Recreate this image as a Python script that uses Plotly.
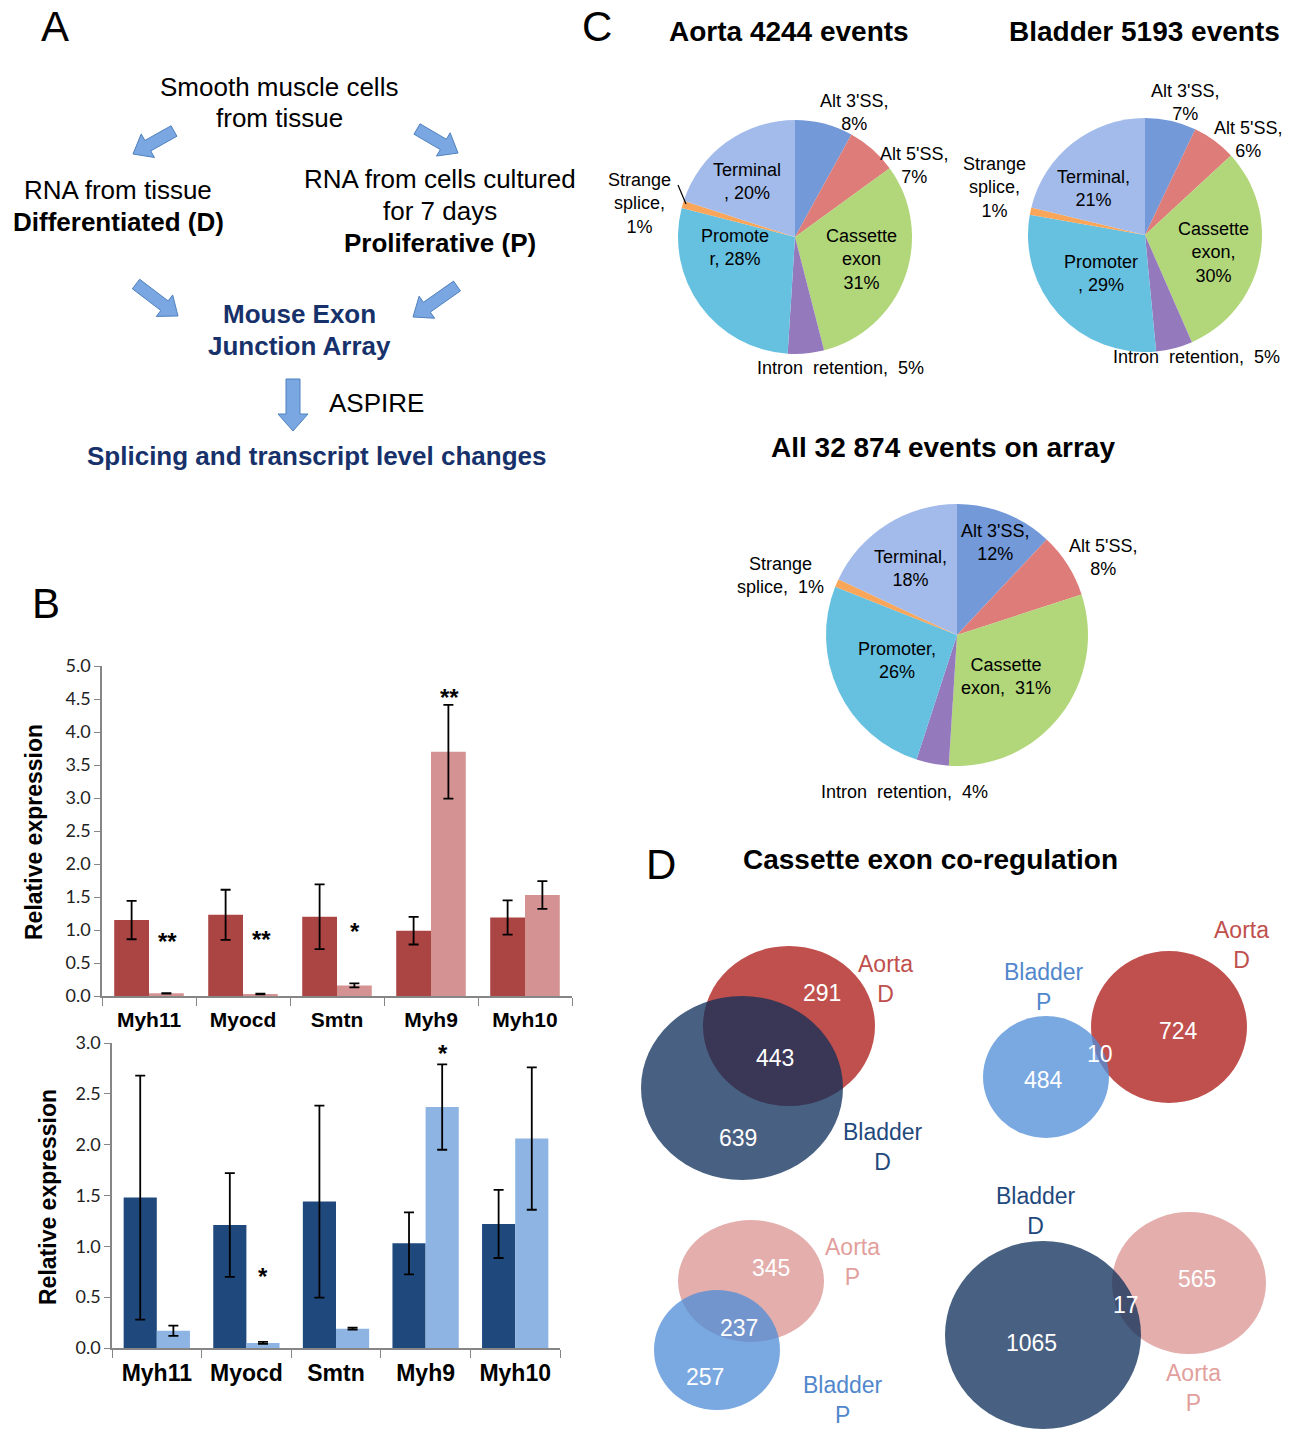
import math
import plotly.graph_objects as go

W, H = 1295, 1429
ARIAL = "Liberation Sans, Arial, sans-serif"
CALIB = "Lato, Liberation Sans, sans-serif"


def X(px):
    return px / W


def Y(py):
    return 1 - py / H


# ---------------- data ----------------
genes = ["Myh11", "Myocd", "Smtn", "Myh9", "Myh10"]

aorta_D = [1.15, 1.23, 1.20, 0.99, 1.19]
aorta_D_err = [0.29, 0.38, 0.49, 0.21, 0.26]
aorta_P = [0.04, 0.03, 0.16, 3.70, 1.53]
aorta_P_err = [0.005, 0.005, 0.03, 0.71, 0.21]
aorta_sig = ["**", "**", "*", "**", ""]
aorta_sig_y = [0.82, 0.86, 0.97, 4.52, 0]

bladder_D = [1.48, 1.21, 1.44, 1.03, 1.22]
bladder_D_err = [1.20, 0.51, 0.945, 0.305, 0.335]
bladder_P = [0.17, 0.05, 0.19, 2.37, 2.06]
bladder_P_err = [0.05, 0.01, 0.01, 0.42, 0.70]
bladder_sig = ["", "*", "", "*", ""]
bladder_sig_y = [0, 0.70, 0, 2.90, 0]

event_types = ["Alt 3'SS", "Alt 5'SS", "Cassette exon", "Intron retention",
               "Promoter", "Strange splice", "Terminal"]
aorta_pct = [8, 7, 31, 5, 28, 1, 20]
bladder_pct = [7, 6, 30, 5, 29, 1, 21]
all_pct = [12, 8, 31, 4, 26, 1, 18]
pie_titles = ["Aorta 4244 events", "Bladder 5193 events", "All 32 874 events on array"]

venn_sets = [("Aorta", "D", "Bladder", "D"),
             ("Bladder", "P", "Aorta", "D"),
             ("Aorta", "P", "Bladder", "P"),
             ("Bladder", "D", "Aorta", "P")]
venn_only_a = [291, 484, 345, 1065]
venn_both = [443, 10, 237, 17]
venn_only_b = [639, 724, 257, 565]

# ---------------- styles ----------------
pie_colors = ["#7399d8", "#de7c79", "#b2d67a", "#9479bd", "#66c0e0", "#f9a65a", "#a3bbea"]
RED_D, RED_P = "#ab4543", "#d49392"
BLUE_D, BLUE_P = "#1f497d", "#8db4e2"
NAVY = "#17316b"

set_fill = {("Aorta", "D"): "#c0504d", ("Bladder", "D"): "rgba(14,46,90,0.76)",
            ("Bladder", "P"): "rgba(80,140,215,0.76)", ("Aorta", "P"): "#e3aeac"}
set_text = {("Aorta", "D"): "#c0504d", ("Bladder", "D"): "#1f497d",
            ("Bladder", "P"): "#5187cc", ("Aorta", "P"): "#e29f9d"}

fig = go.Figure()

# ---------------- panel B bars ----------------
def err(a):
    return dict(type="data", array=a, color="black", thickness=1.8, width=5)

fig.add_trace(go.Bar(x=genes, y=aorta_D, error_y=err(aorta_D_err), marker=dict(color=RED_D, line_width=0),
                     xaxis="x", yaxis="y", showlegend=False))
fig.add_trace(go.Bar(x=genes, y=aorta_P, error_y=err(aorta_P_err), marker=dict(color=RED_P, line_width=0),
                     xaxis="x", yaxis="y", showlegend=False))
fig.add_trace(go.Bar(x=genes, y=bladder_D, error_y=err(bladder_D_err), marker=dict(color=BLUE_D, line_width=0),
                     xaxis="x2", yaxis="y2", showlegend=False))
fig.add_trace(go.Bar(x=genes, y=bladder_P, error_y=err(bladder_P_err), marker=dict(color=BLUE_P, line_width=0),
                     xaxis="x2", yaxis="y2", showlegend=False))

# ---------------- panel C pies ----------------
pie_geom = [(795, 237, 117), (1145, 235, 117), (957, 635, 131)]
for vals, (cx, cy, r) in zip([aorta_pct, bladder_pct, all_pct], pie_geom):
    fig.add_trace(go.Pie(labels=event_types, values=vals, sort=False, direction="clockwise",
                         rotation=0, textinfo="none", hoverinfo="label+percent",
                         marker=dict(colors=pie_colors, line=dict(width=0)),
                         domain=dict(x=[X(cx - r), X(cx + r)], y=[Y(cy + r), Y(cy - r)]),
                         showlegend=False))

annotations = []
shapes = []


def txt(px, py, s, size, color="black", bold=False, family=ARIAL, angle=0, xanchor="center"):
    annotations.append(dict(x=X(px), y=Y(py), xref="paper", yref="paper", text=s, showarrow=False,
                            font=dict(family=family, size=size, color=color,
                                      weight="bold" if bold else "normal"),
                            xanchor=xanchor, yanchor="middle", textangle=angle))


NB = "\u00a0"
pie_label_layout = [
    [("{n},<br>{v}%", 854, 112), ("{n},<br>{v}%", 914, 165), ("Cassette<br>exon<br>{v}%", 861, 259),
     ("Intron" + NB + " retention," + NB + " {v}%", 840, 368), ("Promote<br>r, {v}%", 735, 247),
     ("Strange<br>splice,<br>{v}%", 639, 203), ("Terminal<br>, {v}%", 747, 182)],
    [("{n},<br>{v}%", 1185, 103), ("{n},<br>{v}%", 1248, 139), ("Cassette<br>exon,<br>{v}%", 1213, 252),
     ("Intron" + NB + " retention," + NB + " {v}%", 1196, 357), ("Promoter<br>, {v}%", 1101, 273),
     ("Strange<br>splice,<br>{v}%", 994, 187), ("{n},<br>{v}%", 1093, 189)],
    [("{n},<br>{v}%", 995, 542), ("{n},<br>{v}%", 1103, 557), ("Cassette<br>exon," + NB + " {v}%", 1006, 676),
     ("Intron" + NB + " retention," + NB + " {v}%", 904, 792), ("{n},<br>{v}%", 897, 660),
     ("Strange<br>splice," + NB + " {v}%", 780, 575), ("{n},<br>{v}%", 910, 569)],
]
for vals, lay in zip([aorta_pct, bladder_pct, all_pct], pie_label_layout):
    for name, v, (tpl, px, py) in zip(event_types, vals, lay):
        txt(px, py, tpl.format(n=name, v=v), 18)

shapes.append(dict(type="line", xref="paper", yref="paper", x0=X(678), y0=Y(185), x1=X(686), y1=Y(204),
                   line=dict(color="black", width=1.2)))

title_pos = [(789, 32, 28), (1144, 32, 28), (943, 447, 28)]
for t, (px, py, sz) in zip(pie_titles, title_pos):
    txt(px, py, t, sz, bold=True)

# ---------------- panel letters & titles ----------------
txt(55, 26, "A", 42)
txt(597, 26, "C", 42)
txt(46, 604, "B", 42)
txt(661, 864, "D", 42)
txt(930, 860, "Cassette exon co-regulation", 28, bold=True)

# ---------------- panel A ----------------
txt(279, 87, "Smooth muscle cells", 26)
txt(279, 118, "from tissue", 26)
txt(118, 190, "RNA from tissue", 26)
txt(118, 222, "Differentiated (D)", 26, bold=True)
txt(440, 179, "RNA from cells cultured", 26)
txt(440, 211, "for 7 days", 26)
txt(440, 243, "Proliferative (P)", 26, bold=True)
txt(299, 314, "Mouse Exon", 26, color=NAVY, bold=True)
txt(299, 346, "Junction Array", 26, color=NAVY, bold=True)
txt(376, 403, "ASPIRE", 26)
txt(316, 456, "Splicing and transcript level changes", 26, color=NAVY, bold=True)


def block_arrow(x0, y0, x1, y1, sw=12, hw=27, hl=17):
    dx, dy = x1 - x0, y1 - y0
    L = math.hypot(dx, dy)
    ux, uy = dx / L, dy / L
    nx, ny = -uy, ux
    bx, by = x1 - ux * hl, y1 - uy * hl
    pts = [(x0 + nx * sw / 2, y0 + ny * sw / 2), (bx + nx * sw / 2, by + ny * sw / 2),
           (bx + nx * hw / 2, by + ny * hw / 2), (x1, y1),
           (bx - nx * hw / 2, by - ny * hw / 2), (bx - nx * sw / 2, by - ny * sw / 2),
           (x0 - nx * sw / 2, y0 - ny * sw / 2)]
    path = "M " + " L ".join(f"{X(px):.5f},{Y(py):.5f}" for px, py in pts) + " Z"
    shapes.append(dict(type="path", xref="paper", yref="paper", path=path,
                       fillcolor="#7aa7e2", line=dict(color="#4f81bd", width=1)))


block_arrow(174, 131, 133, 154)
block_arrow(417, 129, 458, 153)
block_arrow(136, 284, 178, 316)
block_arrow(457, 286, 413, 317)
block_arrow(293, 379, 293, 431, sw=14, hw=30, hl=17)

# ---------------- panel D venns ----------------
# set A / set B ellipse geometry (cx, cy, rx, ry), draw order, text positions
venn_layout = [
    dict(a=(789, 1026, 86, 80), b=(742, 1088, 101, 92), order="ab",
         na=(822, 993), nab=(775, 1058), nb=(738, 1138), la=(885, 979), lb=(883, 1147)),
    dict(a=(1046, 1077, 63, 61), b=(1169, 1027, 78, 76), order="ba",
         na=(1043, 1080), nab=(1100, 1054), nb=(1178, 1031), la=(1044, 987), lb=(1241, 945)),
    dict(a=(751, 1281, 73, 61), b=(717, 1350, 63, 60), order="ab",
         na=(771, 1268), nab=(739, 1328), nb=(705, 1377), la=(853, 1262), lb=(843, 1400)),
    dict(a=(1043, 1335, 98, 94), b=(1189, 1283, 77, 71), order="ba",
         na=(1031, 1343), nab=(1126, 1305), nb=(1197, 1279), la=(1036, 1211), lb=(1193, 1388)),
]

for sets, oa, ab, ob, lay in zip(venn_sets, venn_only_a, venn_both, venn_only_b, venn_layout):
    keyA, keyB = (sets[0], sets[1]), (sets[2], sets[3])
    for which in lay["order"]:
        key = keyA if which == "a" else keyB
        cx, cy, rx, ry = lay[which]
        shapes.append(dict(type="circle", xref="paper", yref="paper",
                           x0=X(cx - rx), x1=X(cx + rx), y0=Y(cy + ry), y1=Y(cy - ry),
                           fillcolor=set_fill[key], line=dict(width=0), layer="above"))
    txt(*lay["na"], str(oa), 23, color="white")
    txt(*lay["nab"], str(ab), 23, color="white")
    txt(*lay["nb"], str(ob), 23, color="white")
    txt(*lay["la"], f"{sets[0]}<br>{sets[1]}", 23, color=set_text[keyA])
    txt(*lay["lb"], f"{sets[2]}<br>{sets[3]}", 23, color=set_text[keyB])

# ---------------- significance stars ----------------
for g, s, yv in zip(genes, aorta_sig, aorta_sig_y):
    if s:
        annotations.append(dict(x=g, y=yv, xref="x", yref="y", text=s, showarrow=False, xshift=18,
                                font=dict(family=ARIAL, size=24, color="black", weight="bold"),
                                yanchor="middle"))
for g, s, yv in zip(genes, bladder_sig, bladder_sig_y):
    if s:
        annotations.append(dict(x=g, y=yv, xref="x2", yref="y2", text=s, showarrow=False, xshift=17,
                                font=dict(family=ARIAL, size=24, color="black", weight="bold"),
                                yanchor="middle"))

txt(34, 832, "Relative expression", 23, bold=True, angle=-90)
txt(48, 1197, "Relative expression", 23, bold=True, angle=-90)

AX = "#868686"
xcommon = dict(type="category", tickson="boundaries", ticks="outside", ticklen=8, tickcolor=AX,
               showline=True, linecolor=AX, linewidth=1.5, showgrid=False, zeroline=False,
               ticklabelstandoff=4, automargin=False)
ycommon = dict(ticks="outside", ticklen=6, tickcolor=AX, showline=True, linecolor=AX, linewidth=1.5,
               showgrid=False, zeroline=False, dtick=0.5, tickformat=".1f", automargin=False,
               tickfont=dict(family=CALIB, size=18, color="#222"))

fig.update_layout(
    width=W, height=H, margin=dict(l=0, r=0, t=0, b=0, autoexpand=False),
    paper_bgcolor="white", plot_bgcolor="white",
    barmode="group", bargap=0.26, bargroupgap=0,
    xaxis=dict(domain=[X(102), X(572)], anchor="y",
               tickfont=dict(family=ARIAL, size=21, color="black", weight="bold"), **xcommon),
    yaxis=dict(domain=[Y(996), Y(666)], anchor="x", range=[0, 5], **ycommon),
    xaxis2=dict(domain=[X(112), X(560)], anchor="y2",
                tickfont=dict(family=ARIAL, size=23, color="black", weight="bold"), **xcommon),
    yaxis2=dict(domain=[Y(1348), Y(1043)], anchor="x2", range=[0, 3], **ycommon),
    annotations=annotations, shapes=shapes,
)

post = ("document.documentElement.style.margin='0';document.body.style.margin='0';"
        "document.documentElement.style.overflow='hidden';document.body.style.overflow='hidden';")
fig.write_html("out.html", config={"displayModeBar": False}, post_script=post)
